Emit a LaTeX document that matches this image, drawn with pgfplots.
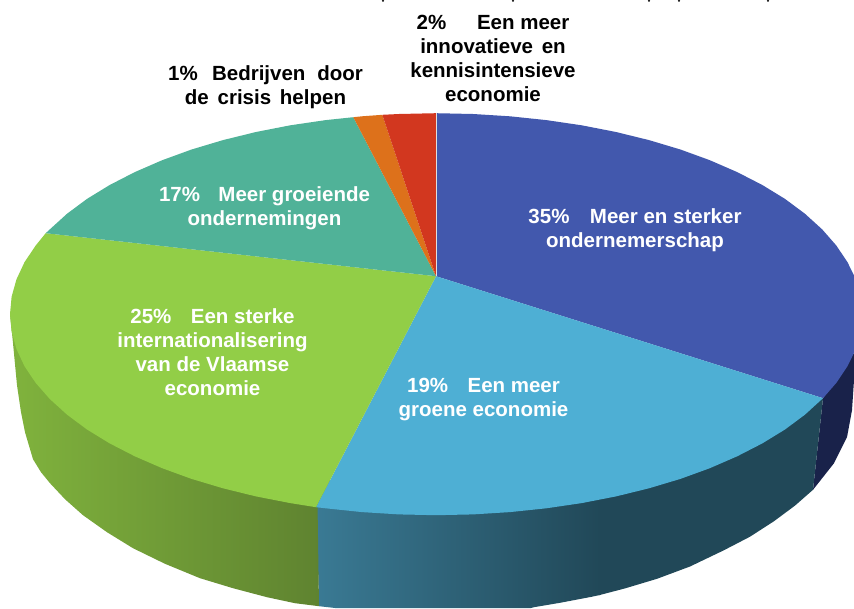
\documentclass[border=0pt]{standalone}
\usepackage{pgfplots}
\usepackage{fontspec}
\setmainfont{Liberation Sans}
\pgfplotsset{compat=1.18}
\definecolor{cBlue}{HTML}{4258AD}
\definecolor{cSky}{HTML}{4EAFD4}
\definecolor{cGreen}{HTML}{92CE47}
\definecolor{cTeal}{HTML}{50B298}
\definecolor{cOrange}{HTML}{DD711B}
\definecolor{cRed}{HTML}{D2371F}
\definecolor{wNavy}{HTML}{19224A}
\definecolor{wSkyL}{HTML}{3A7A94}
\definecolor{wSkyR}{HTML}{214858}
\definecolor{wGreenL}{HTML}{80B33D}
\definecolor{wGreenR}{HTML}{5F8330}
\newcommand{\lab}[4]{\node[text=#1,align=center,inner sep=0pt,font=\fontsize{20.5}{24}\selectfont\bfseries] at (axis cs:#2,#3) {#4};}
\begin{document}
\begin{tikzpicture}
\begin{axis}[
  scale only axis,
  width=854pt,
  height=608pt,
  xmin=0,xmax=854,
  ymin=0,ymax=608,
  y dir=reverse,
  hide axis,
  clip=true,
]
% keeps the page at the full frame
\addplot[draw=none,mark=none] coordinates {(0,0) (854,608)};
% specks left at the upper edge of the picture
\addplot[only marks,mark=*,mark size=0.8pt,mark options={draw=none,fill=gray!60}] coordinates {(383,0.6) (513,0.6) (649,0.6) (679,0.6) (768,0.6)};
% side walls, top edge hidden under the slices
\addplot[draw=none,mark=none,fill=wNavy] coordinates {(823,398) (854,352.7) (854,380) (852,410) (847,437) (834,463) (813,489.6)} -- cycle;
\addplot[draw=none,mark=none,fill=wSkyR] coordinates {(599,480) (823,398) (813,489.6) (795,505.4) (774,521) (750,536.5) (724,550) (690,566.3) (657,578.6) (625,588.2) (599,595)} -- cycle;
\addplot[draw=none,mark=none,left color=wSkyL,right color=wSkyR] coordinates {(316,480) (600,480) (600,594.8) (591,596.7) (560,602.6) (534,607) (530,608) (337,608) (319,606)} -- cycle;
\addplot[draw=none,mark=none,left color=wGreenL,right color=wGreenR] coordinates {(10,314) (12,333) (13,343) (17,385) (21,412) (25,432) (33,459) (41,472) (50,483) (65,499) (83,515) (107,532) (133,548) (165,563.6) (200,578) (233,588) (267,597) (295,603) (319,606) (316,400)} -- cycle;
% top of the pie
\addplot[draw=none,mark=none,fill=cBlue] coordinates {(436,276) (436,113) (473.1,113.8) (510,116.1) (546.3,119.9) (581.7,125.1) (616,131.8) (649,139.9) (680.4,149.3) (709.8,160) (737.2,171.9) (762.3,184.8) (785,198.7) (804.9,213.5) (822.1,229.1) (836.3,245.3) (847.5,262) (854,275.3) (854,352.7) (847.5,366) (836.3,382.7) (823,398)} -- cycle;
\addplot[draw=none,mark=none,fill=cSky] coordinates {(436,276) (823,398) (804.9,414.5) (785,429.3) (762.3,443.2) (737.2,456.1) (709.8,468) (680.4,478.7) (649,488.1) (616,496.2) (581.7,502.9) (546.3,508.1) (510,511.9) (473.1,514.2) (436,515) (398.9,514.2) (362,511.9) (325.7,508.1) (316,507)} -- cycle;
\addplot[draw=none,mark=none,fill=cGreen] coordinates {(436,276) (316,507) (290.3,502.9) (256,496.2) (223,488.1) (191.6,478.7) (162.2,468) (134.8,456.1) (109.7,443.2) (87,429.3) (67.1,414.5) (49.9,398.9) (35.7,382.7) (24.5,366) (16.5,348.9) (11.6,331.5) (10,314) (11.6,296.5) (16.5,279.1) (24.5,262) (35.7,245.3) (45.7,233)} -- cycle;
\addplot[draw=none,mark=none,fill=cTeal] coordinates {(436,276) (45.7,233) (49.9,229.1) (67.1,213.5) (87,198.7) (109.7,184.8) (134.8,171.9) (162.2,160) (191.6,149.3) (223,139.9) (256,131.8) (290.3,125.1) (325.7,119.9) (353.3,117)} -- cycle;
\addplot[draw=none,mark=none,fill=cOrange] coordinates {(436,276) (353.3,117) (362,116.1) (382.3,114.6)} -- cycle;
\addplot[draw=none,mark=none,fill=cRed] coordinates {(436,276) (382.3,114.6) (398.9,113.8) (436,113)} -- cycle;
\addplot[white!75!gray,mark=none,line width=0.7pt] coordinates {(436,113) (436,276)};
% labels
\lab{black}{493}{58}{2\%\hspace{1.5em}Een meer\\innovatieve\hspace{0.15em} en\\kennisintensieve\\economie}
\lab{black}{265.5}{87}{1\%\hspace{0.7em}Bedrijven\hspace{0.3em} door\\de\hspace{0.15em} crisis\hspace{0.15em} helpen}
\lab{white}{264.5}{208.5}{17\%\hspace{0.9em}Meer groeiende\\ondernemingen}
\lab{white}{635}{230}{35\%\hspace{1em}Meer en sterker\\ondernemerschap}
\lab{white}{212.5}{352}{25\%\hspace{0.95em}Een sterke\\internationalisering\\van de Vlaamse\\economie}
\lab{white}{483.5}{399}{19\%\hspace{0.95em}Een meer\\groene economie}
\end{axis}
\end{tikzpicture}
\end{document}
